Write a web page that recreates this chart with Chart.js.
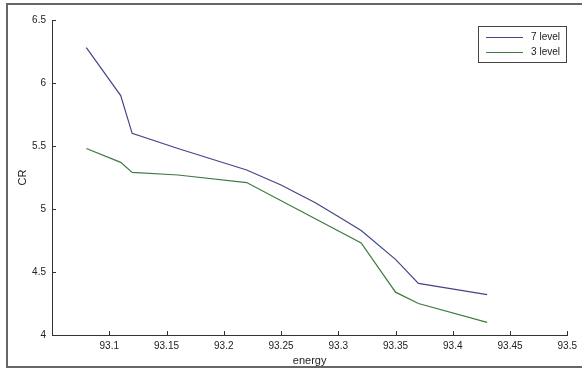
<!DOCTYPE html>
<html>
<head>
<meta charset="utf-8">
<script src="https://cdn.jsdelivr.net/npm/chart.js@4.4.1/dist/chart.umd.min.js"></script>
<style>
  html, body { margin: 0; padding: 0; background: #fff; }
  #wrap { position: relative; width: 582px; height: 370px; }
</style>
</head>
<body>
<div id="wrap"><canvas id="crChart" width="582" height="370"></canvas></div>
<script>
// valores
const energy7 = [93.08, 93.11, 93.12, 93.16, 93.22, 93.25, 93.28, 93.30, 93.32, 93.35, 93.37, 93.43];
const cr7 = [6.28, 5.90, 5.60, 5.48, 5.31, 5.19, 5.05, 4.94, 4.83, 4.60, 4.41, 4.32];
const energy3 = [93.08, 93.11, 93.12, 93.16, 93.22, 93.32, 93.35, 93.37, 93.43];
const cr3 = [5.48, 5.37, 5.29, 5.27, 5.21, 4.73, 4.34, 4.25, 4.10];
const seriesNames = ['7 level', '3 level'];
const xTicks = [93.1, 93.15, 93.2, 93.25, 93.3, 93.35, 93.4, 93.45, 93.5];
const yTicks = [4, 4.5, 5, 5.5, 6, 6.5];

const FONT = 'Liberation Sans, Arial, sans-serif';

function toPoints(xs, ys) {
    return xs.map(function(x, i) { return {x: x, y: ys[i]}; });
}

// ticks hacia adentro, marco exterior y leyenda estilo matlab
const matlabLook = {
    id: 'matlabLook',
    afterDraw: function(chart) {
        const ctx = chart.ctx;
        const xs = chart.scales.x, ys = chart.scales.y;
        const area = chart.chartArea;
        ctx.save();
        ctx.strokeStyle = '#333';
        ctx.lineWidth = 1;
        ctx.beginPath();
        xTicks.forEach(function(v) {
            const px = Math.round(xs.getPixelForValue(v)) + 0.5;
            ctx.moveTo(px, area.bottom);
            ctx.lineTo(px, area.bottom - 4);
        });
        yTicks.forEach(function(v) {
            const py = Math.round(ys.getPixelForValue(v)) + 0.5;
            ctx.moveTo(area.left, py);
            ctx.lineTo(area.left + 4, py);
        });
        ctx.stroke();

        // marco de la figura
        ctx.strokeStyle = '#666';
        ctx.lineWidth = 2;
        ctx.beginPath();
        ctx.moveTo(590, 4);
        ctx.lineTo(7, 4);
        ctx.lineTo(7, 367);
        ctx.lineTo(590, 367);
        ctx.stroke();

        // leyenda
        const lx = 478, ly = 26, lw = 88, lh = 36;
        ctx.fillStyle = '#fff';
        ctx.fillRect(lx, ly, lw, lh);
        ctx.strokeStyle = '#444';
        ctx.lineWidth = 1;
        ctx.strokeRect(lx + 0.5, ly + 0.5, lw, lh);
        ctx.font = '10px ' + FONT;
        ctx.textAlign = 'right';
        ctx.textBaseline = 'middle';
        chart.data.datasets.forEach(function(ds, i) {
            const yy = ly + 11.5 + i * 15;
            ctx.strokeStyle = ds.borderColor;
            ctx.beginPath();
            ctx.moveTo(486, yy);
            ctx.lineTo(523, yy);
            ctx.stroke();
            ctx.fillStyle = '#222';
            ctx.fillText(ds.label, 560, yy);
        });
        ctx.restore();
    }
};

const ctx = document.getElementById('crChart').getContext('2d');
new Chart(ctx, {
    type: 'scatter',
    data: {
        datasets: [{
            label: seriesNames[0],
            data: toPoints(energy7, cr7),
            showLine: true,
            borderColor: '#45458a',
            borderWidth: 1.2,
            pointRadius: 0,
            tension: 0
        }, {
            label: seriesNames[1],
            data: toPoints(energy3, cr3),
            showLine: true,
            borderColor: '#3f7a3f',
            borderWidth: 1.2,
            pointRadius: 0,
            tension: 0
        }]
    },
    options: {
        responsive: false,
        animation: false,
        layout: { padding: { left: 0, top: 20, right: 12, bottom: 0 } },
        plugins: {
            legend: { display: false },
            tooltip: { enabled: false }
        },
        scales: {
            x: {
                type: 'linear',
                min: 93.05,
                max: 93.5,
                afterFit: function(scale) { scale.height = 35; },
                afterBuildTicks: function(scale) {
                    scale.ticks = xTicks.map(function(v) { return {value: v}; });
                },
                grid: { display: true, drawOnChartArea: false, drawTicks: false },
                border: { display: true, color: '#333', width: 1 },
                ticks: {
                    autoSkip: false,
                    maxRotation: 0,
                    padding: 5,
                    color: '#222',
                    font: { family: FONT, size: 10 },
                    callback: function(v) { return String(Number(v.toFixed(2))); }
                },
                title: {
                    display: true,
                    text: 'energy',
                    color: '#222',
                    font: { family: FONT, size: 11 },
                    padding: { top: 0, bottom: 2 }
                }
            },
            y: {
                type: 'linear',
                min: 4,
                max: 6.5,
                afterFit: function(scale) { scale.width = 52; },
                afterBuildTicks: function(scale) {
                    scale.ticks = yTicks.map(function(v) { return {value: v}; });
                },
                grid: { display: true, drawOnChartArea: false, drawTicks: false },
                border: { display: true, color: '#333', width: 1 },
                ticks: {
                    padding: 6,
                    color: '#222',
                    font: { family: FONT, size: 10 },
                    callback: function(v) { return String(Number(v.toFixed(1))); }
                },
                title: {
                    display: true,
                    text: 'CR',
                    color: '#222',
                    font: { family: FONT, size: 11 },
                    padding: { top: 16, bottom: 0 }
                }
            }
        }
    },
    plugins: [matlabLook]
});
</script>
</body>
</html>
